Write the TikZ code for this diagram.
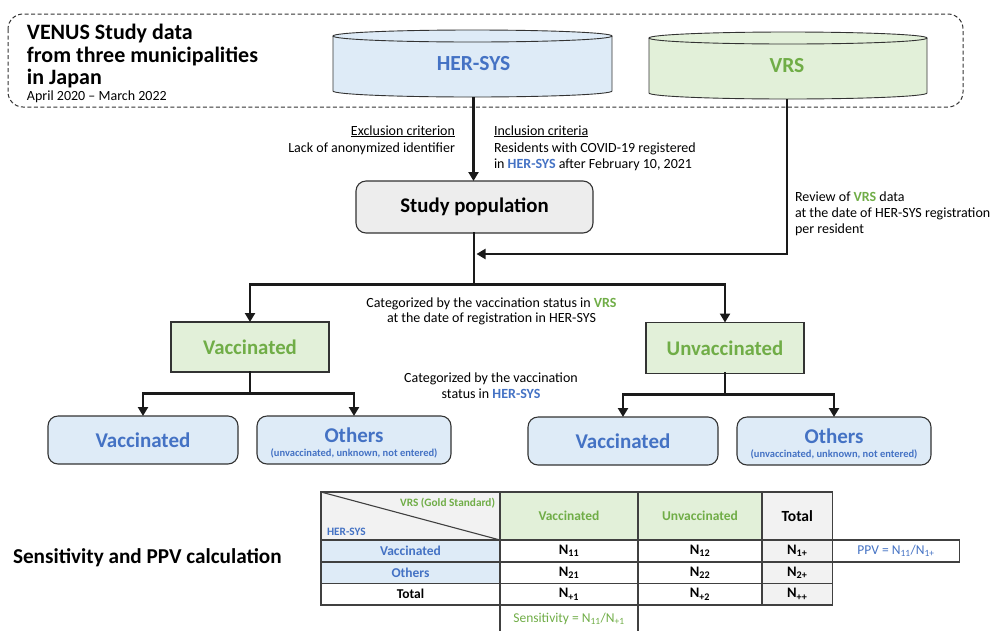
\documentclass[tikz,border=0pt]{standalone}
\usepackage{fontspec}
\setmainfont{Carlito}
\usetikzlibrary{arrows.meta}
\definecolor{blueF}{HTML}{DEEBF7}
\definecolor{blueT}{HTML}{4472C4}
\definecolor{greenF}{HTML}{E2F0D9}
\definecolor{greenT}{HTML}{70AD47}
\definecolor{grayF}{HTML}{F2F2F2}
\definecolor{spF}{HTML}{EDEDED}
\definecolor{boxC}{HTML}{333333}
\definecolor{tblC}{HTML}{404040}
\definecolor{arrC}{HTML}{1A1A1A}
\begin{document}
\begin{tikzpicture}[x=1pt,y=-1pt,
  tx/.style={inner sep=0pt, outer sep=0pt},
  small/.style={tx, font=\fontsize{14}{16}\selectfont},
  line/.style={draw=arrC, line width=2.6pt, line cap=rect},
  conn/.style={draw=arrC, line width=2.6pt, -{Triangle[length=9pt,width=10pt]}},
  box/.style={draw=boxC, line width=1.1pt, inner sep=0pt, outer sep=0pt},
  gbox/.style={box, fill=greenF, text=greenT, font=\bfseries\fontsize{20.8}{24}\selectfont},
  bbox/.style={box, fill=blueF, rounded corners=10pt},
  btext/.style={tx, text=blueT, font=\bfseries\fontsize{21}{24}\selectfont},
  bsub/.style={tx, text=blueT, font=\bfseries\fontsize{10.5}{12}\selectfont},
  cell/.style 2 args={draw=tblC, line width=1.3pt, inner sep=0pt, outer sep=0pt, anchor=north west, minimum width=#1pt, minimum height=#2pt, fill=white},
  lab/.style={font=\bfseries\fontsize{13.5}{16}\selectfont},
  ncell/.style={font=\bfseries\fontsize{14.5}{17}\selectfont}
]
\useasboundingbox (0,0) rectangle (992,630);

% dashed frame
\draw[draw=boxC, line width=1pt, dash pattern=on 4pt off 2.5pt, rounded corners=15pt] (8,14) rectangle (963,107);

% title
\node[tx, anchor=base west, font=\bfseries\fontsize{22}{24}\selectfont] (t1) at (27,39) {VENUS Study data};
\node[tx, anchor=base west, font=\bfseries\fontsize{22}{24}\selectfont] (t2) at (27,62) {from three municipalities};
\node[tx, anchor=base west, font=\bfseries\fontsize{22}{24}\selectfont] (t3) at (27,84) {in Japan};
\node[tx, anchor=base west, font=\fontsize{14}{16}\selectfont] (t4) at (27,100) {April 2020 -- March 2022};

% HER-SYS cylinder
\fill[blueF] (333,36) -- (333,91) .. controls (333,94.31) and (395.45,97) .. (472.5,97) .. controls (549.55,97) and (612,94.31) .. (612,91) -- (612,36) -- cycle;
\fill[blueF] (472.5,36) ellipse [x radius=139.5, y radius=6];
\draw[boxC, line width=0.9pt] (333,36) -- (333,91) .. controls (333,94.31) and (395.45,97) .. (472.5,97) .. controls (549.55,97) and (612,94.31) .. (612,91) -- (612,36);
\draw[boxC, line width=0.9pt] (472.5,36) ellipse [x radius=139.5, y radius=6];
\node[tx, minimum width=279pt, minimum height=67pt, text=blueT, font=\bfseries\fontsize{21.5}{24}\selectfont] (hs) at (473.5,63.5) {HER-SYS};

% VRS cylinder
\fill[greenF] (649,38) -- (649,93) .. controls (649,96.31) and (711.23,99) .. (788,99) .. controls (864.77,99) and (927,96.31) .. (927,93) -- (927,38) -- cycle;
\fill[greenF] (788,38) ellipse [x radius=139, y radius=6];
\draw[boxC, line width=0.9pt] (649,38) -- (649,93) .. controls (649,96.31) and (711.23,99) .. (788,99) .. controls (864.77,99) and (927,96.31) .. (927,93) -- (927,38);
\draw[boxC, line width=0.9pt] (788,38) ellipse [x radius=139, y radius=6];
\node[tx, minimum width=278pt, minimum height=67pt, text=greenT, font=\bfseries\fontsize{21.5}{24}\selectfont] (vrs) at (787,65.5) {VRS};

% criteria texts
\node[small, anchor=base east] (ex1) at (455,135) {\underline{Exclusion criterion}};
\node[small, anchor=base east] (ex2) at (455,152) {Lack of anonymized identifier};
\node[small, anchor=base west] (in1) at (494,135) {\underline{Inclusion criteria}};
\node[small, anchor=base west] (in2) at (494,152) {Residents with COVID-19 registered};
\node[small, anchor=base west] (in3) at (494,168) {in \textbf{\textcolor{blueT}{HER-SYS}} after February 10, 2021};

% study population
\node[box, fill=spF, rounded corners=10pt, minimum width=237pt, minimum height=52pt, font=\bfseries\fontsize{20.8}{24}\selectfont] (sp) at (474.5,207) {Study population};

% review text
\node[small, anchor=base west] (rv1) at (795,201) {Review of \textbf{\textcolor{greenT}{VRS}} data};
\node[small, anchor=base west] (rv2) at (795,217) {at the date of HER-SYS registration};
\node[small, anchor=base west] (rv3) at (795,233) {per resident};

% connectors top
\coordinate (j1) at (474,284.5);
\coordinate (j2) at (476.5,254);
\draw[conn] (hs.south) -- (hs.south |- sp.north);
\draw[line] (sp.south -| j1) -- (j1);
\draw[conn] (vrs.south) |- (j2);

% categorized texts
\node[small, anchor=base] (c1) at (491.5,307) {Categorized by the vaccination status in \textbf{\textcolor{greenT}{VRS}}};
\node[small, anchor=base] (c2) at (491.5,322) {at the date of registration in HER-SYS};
\node[small, anchor=base] (c3) at (491,382) {Categorized by the vaccination};
\node[small, anchor=base] (c4) at (491,398) {status in \textbf{\textcolor{blueT}{HER-SYS}}};

% green boxes
\node[gbox, minimum width=158pt, minimum height=50pt] (gv) at (250,347) {Vaccinated};
\node[gbox, minimum width=158pt, minimum height=51pt] (gu) at (725,348) {Unvaccinated};
\draw[conn] (j1) -| (gv.north);
\draw[conn] (j1) -| (gu.north);

% blue boxes
\node[bbox, minimum width=190pt, minimum height=48pt] (bv1) at (143,440) {};
\node[bbox, minimum width=194pt, minimum height=48pt] (bo1) at (354,440) {};
\node[bbox, minimum width=190pt, minimum height=48pt] (bv2) at (623,441) {};
\node[bbox, minimum width=194pt, minimum height=48pt] (bo2) at (834,441) {};
\node[btext, anchor=base] (bv1t) at (143,447) {Vaccinated};
\node[btext, anchor=base] (bo1t) at (354,442) {Others};
\node[bsub, anchor=base] (bo1s) at (354,456) {(unvaccinated, unknown, not entered)};
\node[btext, anchor=base] (bv2t) at (623,448) {Vaccinated};
\node[btext, anchor=base] (bo2t) at (834,443) {Others};
\node[bsub, anchor=base] (bo2s) at (834,457) {(unvaccinated, unknown, not entered)};

\coordinate (j3) at (250,393.5);
\coordinate (j4) at (725,394.5);
\draw[line] (gv.south) -- (j3);
\draw[line] (gu.south) -- (j4);
\draw[conn] (j3) -| (bv1.north);
\draw[conn] (j3) -| (bo1.north);
\draw[conn] (j4) -| (bv2.north);
\draw[conn] (j4) -| (bo2.north);

% table title
\node[tx, anchor=base west, font=\bfseries\fontsize{21.2}{24}\selectfont] (tt) at (13,563) {Sensitivity and PPV calculation};

% table
\node[cell={179}{48}, fill=grayF] (c00) at (321,492) {};
\draw[tblC, line width=1.1pt] (c00.north west) -- (c00.south east);
\node[tx, anchor=base east, text=greenT, font=\bfseries\fontsize{11.3}{13}\selectfont] (h0a) at (495,506) {VRS (Gold Standard)};
\node[tx, anchor=base west, text=blueT, font=\bfseries\fontsize{11.3}{13}\selectfont] (h0b) at (327,535) {HER-SYS};
\node[cell={138}{48}, fill=greenF, text=greenT, lab] (c01) at (500,492) {Vaccinated};
\node[cell={124}{48}, fill=greenF, text=greenT, lab] (c02) at (638,492) {Unvaccinated};
\node[cell={70.5}{48}, fill=grayF, font=\bfseries\fontsize{15.5}{18}\selectfont] (c03) at (762,492) {Total};

\node[cell={127}{22}, text=blueT, font=\fontsize{13.5}{16}\selectfont] (ppv) at (832.5,540) {PPV = N\textsubscript{11}/N\textsubscript{1+}};

\node[cell={179}{22}, fill=blueF, text=blueT, lab] (c10) at (321,540) {Vaccinated};
\node[cell={138}{22}, ncell] (c11) at (500,540) {N\textsubscript{11}};
\node[cell={124}{22}, ncell] (c12) at (638,540) {N\textsubscript{12}};
\node[cell={70.5}{22}, fill=grayF, ncell] (c13) at (762,540) {N\textsubscript{1+}};

\node[cell={179}{21.5}, fill=blueF, text=blueT, lab] (c20) at (321,562) {Others};
\node[cell={138}{21.5}, ncell] (c21) at (500,562) {N\textsubscript{21}};
\node[cell={124}{21.5}, ncell] (c22) at (638,562) {N\textsubscript{22}};
\node[cell={70.5}{21.5}, fill=grayF, ncell] (c23) at (762,562) {N\textsubscript{2+}};

\node[cell={179}{21.5}, lab] (c30) at (321,583.5) {Total};
\node[cell={138}{21.5}, ncell] (c31) at (500,583.5) {N\textsubscript{+1}};
\node[cell={124}{21.5}, ncell] (c32) at (638,583.5) {N\textsubscript{+2}};
\node[cell={70.5}{21.5}, fill=grayF, ncell] (c33) at (762,583.5) {N\textsubscript{++}};

\coordinate (s1) at (500,632);
\coordinate (s2) at (638,632);
\draw[tblC, line width=1.3pt] (c31.south west) -- (s1);
\draw[tblC, line width=1.3pt] (c31.south east) -- (s2);
\node[tx, text=greenT, font=\fontsize{13.5}{16}\selectfont] (sens) at (569,619) {Sensitivity = N\textsubscript{11}/N\textsubscript{+1}};
\end{tikzpicture}
\end{document}
